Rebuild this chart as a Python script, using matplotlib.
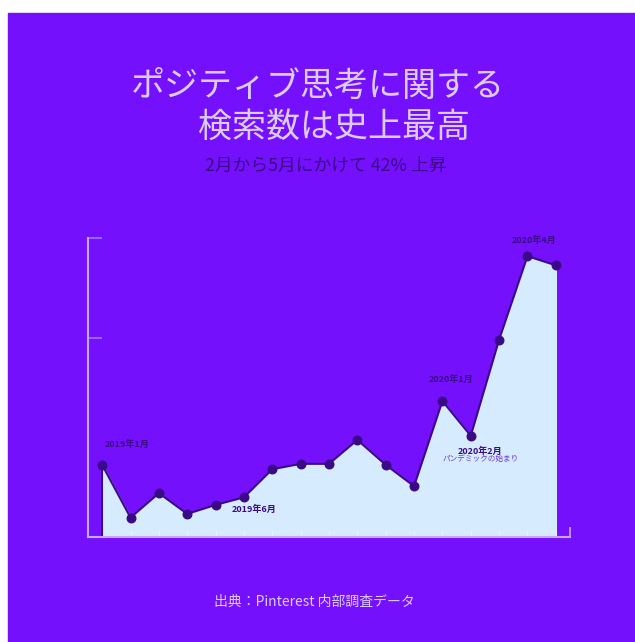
import matplotlib.pyplot as plt
from matplotlib.patches import Rectangle

plt.rcParams['font.family'] = ['Noto Sans CJK JP', 'DejaVu Sans']

# monthly search index, Jan 2019 - May 2020
months = ['2019-01', '2019-02', '2019-03', '2019-04', '2019-05', '2019-06',
          '2019-07', '2019-08', '2019-09', '2019-10', '2019-11', '2019-12',
          '2020-01', '2020-02', '2020-03', '2020-04', '2020-05']
values = [36.2, 9.7, 22.0, 11.6, 16.1, 19.9, 34.0, 36.7, 36.7, 48.7,
          36.2, 25.5, 68.2, 50.8, 99.0, 140.9, 136.3]
y_ticks = [0, 100, 150]

# labelled months: (index, text, offset in points)
notes = [(0, '2019年1月', (18, 15)),
         (5, '2019年6月', (7, -8.5)),
         (12, '2020年1月', (6, 15.5)),
         (15, '2020年4月', (5, 11))]

bg = '#7510FD'
fill_c = '#D6EBFD'
dark = '#3A0A86'
pale = '#DCCBFF'

fig = plt.figure(figsize=(6.35, 6.42), dpi=100)
fig.patch.set_facecolor('white')
fig.patches.append(Rectangle((8 / 635, 0), 1, 1 - 13 / 642,
                             transform=fig.transFigure, color=bg, zorder=-10))

ax = fig.add_axes([88 / 635, 1 - 537 / 642, 482 / 635, 299 / 642])
ax.set_facecolor('none')
x = list(range(len(values)))

ax.fill_between(x, values, 0, color=fill_c, zorder=1)
ax.plot([x[0], x[0]], [0, values[0]], color=dark, lw=1.5, zorder=2)
ax.plot(x, values, color=dark, lw=1.5, zorder=2)
ax.scatter(x, values, s=38, color=dark, zorder=3)

for i, txt, off in notes:
    ax.annotate(txt, (x[i], values[i]), xytext=off, textcoords='offset points',
                ha='center', va='center', fontsize=6.5, fontweight='bold',
                color=dark)
ax.annotate('2020年2月', (x[13], values[13]), xytext=(7, -11),
            textcoords='offset points', ha='center', va='center',
            fontsize=6.5, fontweight='bold', color=dark)
ax.annotate('パンデミックの始まり', (x[13], values[13]), xytext=(7, -16.5),
            textcoords='offset points', ha='center', va='center',
            fontsize=5.5, color='#6B3BD8')

ax.set_xlim(-0.5, 16.5)
ax.set_ylim(0, 150)
ax.set_yticks(y_ticks)
ax.set_yticklabels([])
ax.set_xticks(x)
ax.set_xticklabels([])
ax.tick_params(axis='y', direction='in', length=10, width=1.2, color='#A872FF')
ax.tick_params(axis='x', direction='in', length=4, width=0.8, color='#EAF4FF')
ax.set_xticks([16.5], minor=True)
ax.tick_params(axis='x', which='minor', direction='in', length=7, width=1.2,
               color='#C6A6FF')
for s in ['top', 'right']:
    ax.spines[s].set_visible(False)
for s in ['left', 'bottom']:
    ax.spines[s].set_color('#C6A6FF')
    ax.spines[s].set_linewidth(1.5)

fig.text(318 / 635, 1 - 86 / 642, 'ポジティブ思考に関する', ha='center', va='center',
         fontsize=24.5, color=pale)
fig.text(334 / 635, 1 - 127 / 642, '検索数は史上最高', ha='center', va='center',
         fontsize=24.5, color=pale)
fig.text(326 / 635, 1 - 166 / 642, '2月から5月にかけて 42% 上昇', ha='center',
         va='center', fontsize=12.8, color=dark)
fig.text(314 / 635, 1 - 602 / 642, '出典：Pinterest 内部調査データ', ha='center',
         va='center', fontsize=10, color=pale)

fig.savefig('out.png', dpi=100, facecolor=fig.get_facecolor())
